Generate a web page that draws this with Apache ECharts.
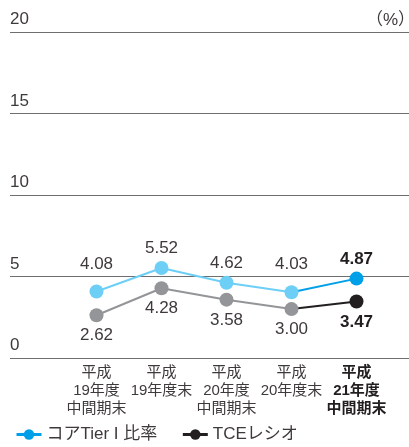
<!DOCTYPE html>
<html>
<head>
<meta charset="UTF-8">
<script src="https://cdn.jsdelivr.net/npm/echarts@6/dist/echarts.min.js"></script>
<style>
  html, body { margin: 0; padding: 0; background: #fff; }
  #chart { width: 409px; height: 447px; }
</style>
</head>
<body>
<div id="chart"></div>
<script>
// 期間ラベル
var periods = ['平成\n19年度\n中間期末', '平成\n19年度末', '平成\n20年度\n中間期末', '平成\n20年度末', '平成\n21年度\n中間期末'];
var tier1 = [4.08, 5.52, 4.62, 4.03, 4.87];   // コアTier I 比率
var tce = [2.62, 4.28, 3.58, 3.00, 3.47];     // TCEレシオ
var yTicks = [0, 5, 10, 15, 20];

var font = "'Liberation Sans', 'Noto Sans CJK JP', sans-serif";
var textCol = '#3e3a39';

// 最後の区間だけ濃い色で描く
function head(arr) {
  return arr.map(function (v, i) { return i < arr.length - 1 ? v : null; });
}
function tail(arr) {
  return arr.map(function (v, i) {
    if (i === arr.length - 1) return v;
    if (i === arr.length - 2) return { value: v, symbol: 'none', label: { show: false } };
    return null;
  });
}

var chart = echarts.init(document.getElementById('chart'));
var option = {
  animation: false,
  textStyle: { fontFamily: font },
  title: {
    text: '（%）', right: -11, top: 7,
    textStyle: { fontSize: 17, fontWeight: 'normal', color: textCol, fontFamily: font }
  },
  legend: {
    data: ['コアTier I 比率', 'TCEレシオ'],
    left: 10, bottom: -1,
    itemWidth: 25, itemHeight: 13, itemGap: 24,
    lineStyle: { width: 3 },
    textStyle: { fontSize: 17, color: textCol, fontFamily: font }
  },
  grid: [
    { left: 10, right: 0, top: 32, bottom: 89 },
    { left: 64, right: 20, top: 32, bottom: 89 }
  ],
  xAxis: [
    { gridIndex: 0, type: 'value', show: false, min: 0, max: 1 },
    {
      gridIndex: 1, type: 'category', data: periods,
      axisLine: { show: false }, axisTick: { show: false },
      axisLabel: {
        margin: 6, fontSize: 15, lineHeight: 18, color: textCol, interval: 0,
        formatter: function (v, i) { return i === 4 ? '{b|' + v.split('\n').join('}\n{b|') + '}' : v; },
        rich: { b: { fontSize: 15, lineHeight: 18, fontWeight: 'bold', color: '#231f20' } }
      }
    }
  ],
  yAxis: [
    {
      gridIndex: 0, type: 'value', min: yTicks[0], max: yTicks[yTicks.length - 1], interval: 5,
      axisLine: { show: false }, axisTick: { show: false },
      axisLabel: {
        inside: true, margin: 0, verticalAlign: 'bottom', fontSize: 17, color: textCol,
        padding: [0, 0, 4, 0]
      },
      splitLine: { lineStyle: { color: '#6d6e70', width: 1 } }
    },
    { gridIndex: 1, type: 'value', min: 0, max: 20, interval: 5, show: false, splitLine: { show: false } }
  ],
  series: [
    {
      name: 'tier1-a', type: 'line', xAxisIndex: 1, yAxisIndex: 1,
      data: head(tier1).map(function (v, i) {
        if (v !== null && (i === 0 || i === 3)) return { value: v, label: { offset: [0, -8] } };
        return v;
      }),
      symbol: 'circle', symbolSize: 14, z: 3,
      lineStyle: { color: '#6dcff6', width: 2 }, itemStyle: { color: '#6dcff6' },
      label: { show: true, position: 'top', distance: 4, fontSize: 17, color: textCol,
        formatter: function (p) { return p.value.toFixed(2); } }
    },
    {
      name: 'コアTier I 比率', type: 'line', xAxisIndex: 1, yAxisIndex: 1,
      data: tail(tier1),
      symbol: 'circle', symbolSize: 14, z: 3,
      lineStyle: { color: '#00a0e9', width: 2 }, itemStyle: { color: '#00a0e9' },
      label: { show: true, position: 'top', distance: 4, fontSize: 17, fontWeight: 'bold', color: '#231f20',
        formatter: function (p) { return p.value.toFixed(2); } }
    },
    {
      name: 'tce-a', type: 'line', xAxisIndex: 1, yAxisIndex: 1,
      data: head(tce),
      symbol: 'circle', symbolSize: 14, z: 2,
      lineStyle: { color: '#939598', width: 2 }, itemStyle: { color: '#939598' },
      label: { show: true, position: 'bottom', distance: 5, fontSize: 17, color: textCol,
        formatter: function (p) { return p.value.toFixed(2); } }
    },
    {
      name: 'TCEレシオ', type: 'line', xAxisIndex: 1, yAxisIndex: 1,
      data: tail(tce),
      symbol: 'circle', symbolSize: 14, z: 2,
      lineStyle: { color: '#231f20', width: 2 }, itemStyle: { color: '#231f20' },
      label: { show: true, position: 'bottom', distance: 5, fontSize: 17, fontWeight: 'bold', color: '#231f20',
        formatter: function (p) { return p.value.toFixed(2); } }
    }
  ]
};
chart.setOption(option);
</script>
</body>
</html>
